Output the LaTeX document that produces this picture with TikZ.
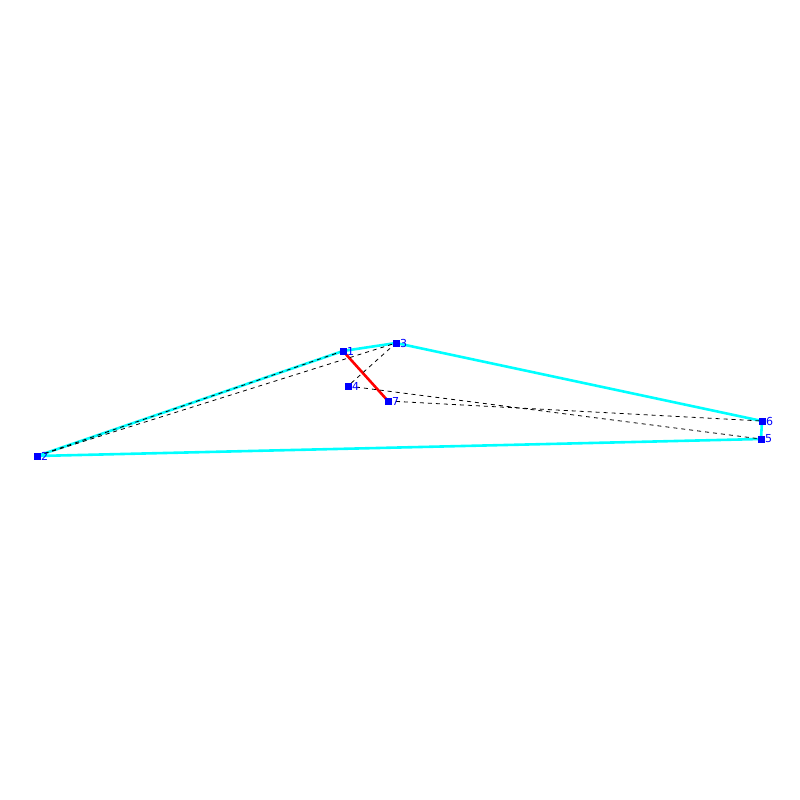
\documentclass[tikz,border=0pt]{standalone}
\usepackage{fontspec}
\setmainfont{DejaVu Sans}
\begin{document}
\begin{tikzpicture}[x=1pt,y=-1pt,
  pt/.style={fill={rgb,255:red,0;green,0;blue,255},inner sep=0pt,minimum size=7pt,draw=none},
  lab/.style={text={rgb,255:red,0;green,0;blue,255},font=\fontsize{11}{11}\selectfont,inner sep=0pt,anchor=west},
  edge/.style={draw={rgb,255:red,0;green,255;blue,255},line width=2.6pt},
  redge/.style={draw=red,line width=2.6pt},
  dedge/.style={draw=black,line width=0.8pt,dash pattern=on 4pt off 4pt}]
\useasboundingbox (0,0) rectangle (800,800);
\coordinate (p1) at (343,351);
\coordinate (p2) at (37,456);
\coordinate (p3) at (396,343);
\coordinate (p4) at (348,386);
\coordinate (p5) at (761,439);
\coordinate (p6) at (762,421);
\coordinate (p7) at (388,401);
\draw[edge] (p2) -- (p1) -- (p3) -- (p6) -- (p5) -- (p2);
\draw[redge] (p1) -- (p7);
\draw[dedge] (p2) -- (p1);
\draw[dedge] (p2) -- (p3);
\draw[dedge] (p3) -- (p4);
\draw[dedge] (p4) -- (p5);
\draw[dedge] (p7) -- (p6);
\foreach \i in {1,...,7} {
  \node[pt] (n\i) at (p\i) {};
  \node[lab] (l\i) at ([xshift=4pt]p\i) {\i};
}
\end{tikzpicture}
\end{document}
